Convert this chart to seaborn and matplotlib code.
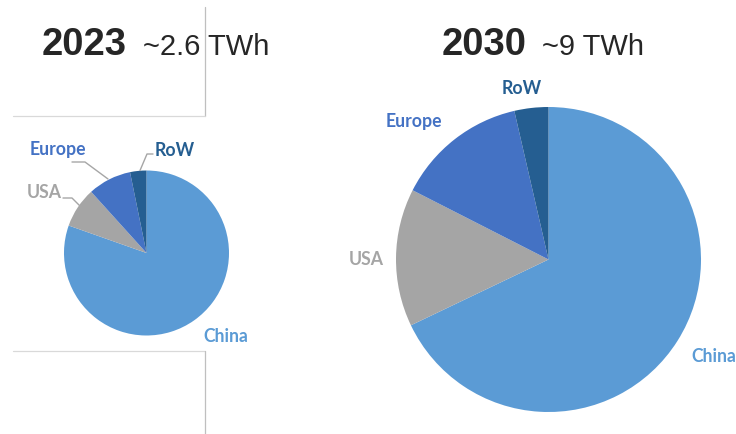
import matplotlib
matplotlib.use("Agg")
import matplotlib.pyplot as plt
from matplotlib.lines import Line2D
import seaborn as sns

# ---------------- data ----------------
regions = ["China", "USA", "Europe", "RoW"]
share_2023 = [80.4, 7.9, 8.5, 3.2]
share_2030 = [67.9, 14.6, 13.9, 3.6]
years = ["2023", "2030"]
totals = ["~2.6 TWh", "~9 TWh"]

sns.set_theme(style="white")
plt.rcParams["font.family"] = ["Liberation Sans", "DejaVu Sans"]

colors = sns.color_palette(["#5B9BD5", "#A5A5A5", "#4472C4", "#255E91"])
label_colors = ["#5B9BD5", "#A5A5A5", "#4472C4", "#255E91"]

W, H = 736, 435
fig = plt.figure(figsize=(W / 100, H / 100), dpi=100)
fig.patch.set_facecolor("white")


def fx(x):
    return x / W


def fy(y):
    return 1 - y / H


def pie_axes(cx, cy, r):
    return fig.add_axes([fx(cx - r), fy(cy + r), 2 * r / W, 2 * r / H])


def finish(ax):
    ax.set_xlim(-1, 1)
    ax.set_ylim(-1, 1)
    ax.set_aspect("equal")
    ax.axis("off")


# left pie (2023)
ax1 = pie_axes(146.5, 254, 82.5)
ax1.pie(share_2023, colors=colors, startangle=90, counterclock=False,
        radius=1, wedgeprops=dict(linewidth=0))
finish(ax1)

# right pie (2030)
ax2 = pie_axes(548.5, 260.5, 152.5)
ax2.pie(share_2030, colors=colors, startangle=90, counterclock=False,
        radius=1, wedgeprops=dict(linewidth=0))
finish(ax2)

# titles
title_color = "#262626"
fig.text(fx(42), fy(55), years[0], fontsize=27.5, fontweight="bold",
         color=title_color, ha="left", va="baseline")
fig.text(fx(143), fy(55), totals[0], fontsize=21, color=title_color,
         ha="left", va="baseline")
fig.text(fx(441.5), fy(55), years[1], fontsize=27.5, fontweight="bold",
         color=title_color, ha="left", va="baseline")
fig.text(fx(541.5), fy(55), totals[1], fontsize=21, color=title_color,
         ha="left", va="baseline")

# slice labels
lab_font = dict(fontsize=12.7, fontweight="bold", family=["Lato", "DejaVu Sans"],
                va="center")
# 2023
fig.text(fx(203), fy(336.5), regions[0], color=label_colors[0], ha="left", **lab_font)
fig.text(fx(62), fy(193), regions[1], color=label_colors[1], ha="right", **lab_font)
fig.text(fx(86), fy(149), regions[2], color=label_colors[2], ha="right", **lab_font)
fig.text(fx(155), fy(151), regions[3], color=label_colors[3], ha="left", **lab_font)
# 2030
fig.text(fx(691.5), fy(356.5), regions[0], color=label_colors[0], ha="left", **lab_font)
fig.text(fx(383.5), fy(259.5), regions[1], color=label_colors[1], ha="right", **lab_font)
fig.text(fx(442), fy(122), regions[2], color=label_colors[2], ha="right", **lab_font)
fig.text(fx(501.5), fy(88.5), regions[3], color=label_colors[3], ha="left", **lab_font)


def pline(xs, ys, color, lw=1.0):
    fig.add_artist(Line2D([fx(x) for x in xs], [fy(y) for y in ys],
                          color=color, lw=lw, transform=fig.transFigure))


# leader lines (2023)
lead = "#A6A6A6"
pline([63, 72, 80], [199, 199, 207], lead)
pline([72, 85, 108], [163, 163, 180], lead)
pline([153, 147, 140], [155, 155, 171.5], lead)

# frame lines
frame = "#BFBFBF"
pline([205, 205], [8, 117], frame, 0.9)
pline([13, 205], [117, 117], "#D9D9D9", 0.9)
pline([13, 205], [351.5, 351.5], "#D9D9D9", 0.9)
pline([205, 205], [351.5, 435], frame, 0.9)

fig.savefig("out.png", dpi=100, facecolor="white")
